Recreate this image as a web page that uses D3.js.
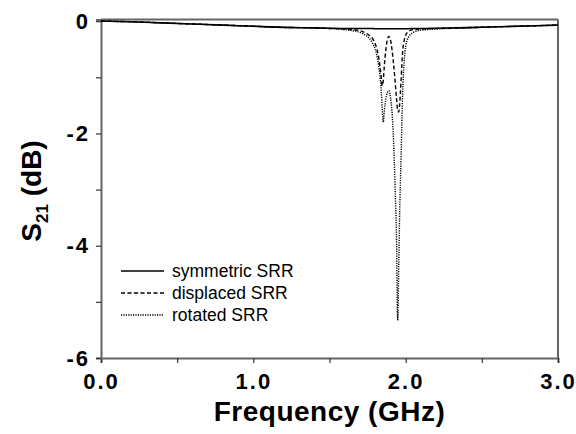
<!DOCTYPE html>
<html><head><meta charset="utf-8">
<script src="https://cdn.jsdelivr.net/npm/d3@7"></script>
<style>body{margin:0;background:#fff}svg{display:block}text{font-family:"Liberation Sans",Arial,sans-serif}</style>
</head><body><svg id="c" width="576" height="434"></svg>
<script>
const freqs = [0, 0.2, 0.4, 0.6, 0.8, 1.0, 1.2, 1.4, 1.5, 1.6, 1.65, 1.7, 1.73, 1.76, 1.78, 1.80, 1.81, 1.82, 1.83, 1.84, 1.846, 1.853, 1.86, 1.87, 1.88, 1.89, 1.90, 1.91, 1.92, 1.93, 1.94, 1.9475, 1.955, 1.96, 1.97, 1.975, 1.98, 1.99, 2.00, 2.02, 2.05, 2.1, 2.2, 2.4, 2.6, 2.8, 3.0];
const symmetric = [0, -0.01, -0.03, -0.05, -0.07, -0.09, -0.11, -0.12, -0.125,
  -0.13, -0.13, -0.13, -0.13, -0.13, -0.13,
  -0.135, -0.135, -0.135, -0.135, -0.135, -0.135, -0.135, -0.135, -0.135, -0.135,
  -0.135, -0.135, -0.135, -0.135, -0.135, -0.135, -0.135, -0.135, -0.135, -0.135,
  -0.135, -0.135, -0.135, -0.135, -0.135,
  -0.13, -0.13, -0.125, -0.115, -0.1, -0.085, -0.07];
const displaced = [0, -0.01, -0.03, -0.05, -0.07, -0.09, -0.11, -0.12, -0.13, -0.14,
  -0.15, -0.17, -0.2, -0.25, -0.3, -0.4, -0.48, -0.6, -0.78, -1.0,
  -1.15, -1.05, -0.8, -0.5, -0.33, -0.27, -0.33, -0.5, -0.75, -1.05,
  -1.38, -1.58, -1.62, -1.5, -1.05, -0.78, -0.55, -0.35, -0.25, -0.18,
  -0.15, -0.14, -0.13, -0.115, -0.1, -0.085, -0.07];
const rotated = [0, -0.01, -0.03, -0.05, -0.07, -0.09, -0.11, -0.12, -0.13, -0.15,
  -0.17, -0.2, -0.24, -0.3, -0.38, -0.5, -0.6, -0.75, -0.95, -1.25,
  -1.55, -1.8, -1.6, -1.38, -1.27, -1.24, -1.35, -1.6, -2.1, -2.9,
  -3.9, -5.33, -4.3, -3.5, -2.4, -1.8, -1.3, -0.72, -0.45, -0.28,
  -0.2, -0.16, -0.14, -0.12, -0.1, -0.085, -0.07];
const seriesNames = ["symmetric SRR", "displaced SRR", "rotated SRR"];
const xTicks = [0, 0.5, 1.0, 1.5, 2.0, 2.5, 3.0];
const xTickLabels = ["0.0", "", "1.0", "", "2.0", "", "3.0"];
const yTicks = [0, -1, -2, -3, -4, -5, -6];
const yTickLabels = ["0", "", "-2", "", "-4", "", "-6"];

const svg = d3.select("#c");
const L = 101, R = 558, T = 19.5, B = 358;
const x = d3.scaleLinear().domain([0, 3]).range([L, R]);
const y = d3.scaleLinear().domain([-6, 0.03]).range([B, T]);
const axisColor = "#666";

svg.append("line").attr("x1", L).attr("x2", R).attr("y1", T).attr("y2", T).attr("stroke", axisColor).attr("stroke-width", 2);
svg.append("line").attr("x1", R).attr("x2", R).attr("y1", T).attr("y2", B).attr("stroke", axisColor).attr("stroke-width", 2);

const xAxis = svg.append("g").attr("transform", `translate(0,${B})`)
  .call(d3.axisBottom(x).tickValues(xTicks).tickSize(5).tickPadding(6).tickFormat((d, i) => xTickLabels[i]));
const yAxis = svg.append("g").attr("transform", `translate(${L},0)`)
  .call(d3.axisLeft(y).tickValues(yTicks).tickSize(5).tickPadding(6).tickFormat((d, i) => yTickLabels[i]));
[xAxis, yAxis].forEach(g => {
  g.select(".domain").attr("stroke", axisColor).attr("stroke-width", 2);
  g.selectAll(".tick line").attr("stroke", "#333").attr("stroke-width", 1.2);
  g.selectAll(".tick text").attr("fill", "#000").style("font-size", "22px").style("font-weight", "bold").style("letter-spacing", "2px");
});
xAxis.selectAll(".tick text").attr("dy", "0.9em");

const data = [symmetric, displaced, rotated];
const dashes = [null, "4,2.5", "1.2,1.2"];
const line = d3.line().curve(d3.curveMonotoneX);
data.forEach((vals, k) => {
  svg.append("path")
    .attr("d", line(freqs.map((f, i) => [x(f), y(vals[i])])))
    .attr("fill", "none").attr("stroke", "#000").attr("stroke-width", k === 0 ? 1.6 : 1.4)
    .attr("stroke-dasharray", dashes[k]);
});

const lg = svg.append("g");
seriesNames.forEach((n, k) => {
  const yy = 271 + k * 22;
  lg.append("line").attr("x1", 121).attr("x2", 164).attr("y1", yy).attr("y2", yy)
    .attr("stroke", "#000").attr("stroke-width", k === 0 ? 1.6 : 1.3).attr("stroke-dasharray", dashes[k]);
  lg.append("text").attr("x", 172).attr("y", yy).attr("dy", "0.35em").style("font-size", "17.5px").text(n);
});

svg.append("text").attr("x", (L + R) / 2).attr("y", 421).attr("text-anchor", "middle")
  .style("font-size", "28px").style("font-weight", "bold").style("letter-spacing", "0.5px").text("Frequency (GHz)");
const yt = svg.append("text").attr("transform", "translate(41,191) rotate(-90)").attr("text-anchor", "middle")
  .style("font-size", "28px").style("font-weight", "bold");
yt.append("tspan").text("S");
yt.append("tspan").attr("dy", 7).style("font-size", "17px").text("21");
yt.append("tspan").attr("dy", -7).text(" (dB)");
</script></body></html>
